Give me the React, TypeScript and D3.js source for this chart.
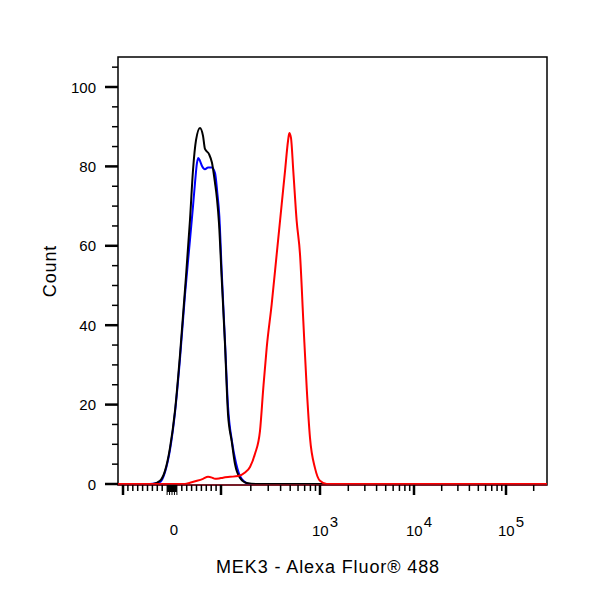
import React from "react";
import * as d3 from "d3";

// fluorescence value, count
const blackCurve: [number, number][] = [
  [-110, 0], [-45, 0], [-39, 0], [-24.5, 0.8], [-14.3, 3.3], [-4.1, 9.1], [6.1, 18.4],
  [16.3, 32.5], [26.5, 48.9], [36.7, 66.5], [42.9, 79.1], [49, 86.6], [57.1, 89.7],
  [63.3, 87.7], [67.3, 84.4], [75.5, 83.1], [81.6, 80.9], [87.8, 75.8], [91.8, 71.8],
  [95.9, 65.7], [101.6, 51.9], [109.7, 35.3], [117.7, 17.6], [128.2, 10.8],
  [138.5, 5.0], [155.6, 1.5], [181.8, 0.25], [229.5, 0], [280000, 0],
];

const blueCurve: [number, number][] = [
  [-110, 0], [-45, 0], [-24.5, 0.5], [-14.3, 3.0], [-4.1, 8.6], [6.1, 18.0], [16.3, 31.5],
  [26.5, 47.6], [36.7, 61.5], [42.9, 70], [46.9, 75.8], [51, 80.9], [53.7, 82.1],
  [57.1, 81.4], [61.2, 80.1], [67.3, 79.3], [73.5, 79.7], [81, 79.7], [87.8, 78.3],
  [92.5, 73.3], [96.6, 67.5], [101.6, 53.7], [109.7, 36], [117.7, 19.6], [129, 10.8],
  [141.7, 5.3], [161.7, 1.3], [196, 0], [247.6, 0], [280000, 0],
];

const redCurve: [number, number][] = [
  [-110, 0], [26.5, 0], [36.7, 0.3], [51, 0.8], [63.3, 1.3], [73.5, 1.8], [81.6, 1.6],
  [87.8, 1.3], [95.9, 1.4], [104.8, 1.6], [123.3, 1.8], [148.5, 2.0], [174.8, 2.9],
  [196.3, 4.3], [220.5, 7.6], [247.7, 13.4], [267.5, 24.2], [289.4, 34.3], [325.2, 45.3],
  [365.3, 57.9], [410.4, 70.5], [443.2, 78.8], [475.3, 86.4], [489.8, 88.4], [509.3, 87.2],
  [537.5, 78.8], [581.5, 66.2], [628, 57.9], [678.3, 41.1], [734.1, 24.2], [792.5, 11.6],
  [890.5, 4.0], [1000, 0.8], [1178, 0], [280000, 0],
];

const yMajorTicks = [0, 20, 40, 60, 80, 100];
const yMinorTicks = [5, 10, 15, 25, 30, 35, 45, 50, 55, 65, 70, 75, 85, 90, 95, 105];
const xMajorTicks = [-100, 100, 1000, 10000, 100000];
const xMinorTicks = [
  -90, -80, -70, -60, -50, -40, -30, -20, 20, 30, 40, 50, 60, 70, 80, 90,
  200, 300, 400, 500, 600, 700, 800, 900,
  2000, 3000, 4000, 5000, 6000, 7000, 8000, 9000,
  20000, 30000, 40000, 50000, 60000, 70000, 80000, 90000, 200000,
];
const xZeroTicks = [-10, -9, -8, -7, -6, -5, -4, -3, -2, -1, 0, 1, 2, 3, 4, 5, 6, 7, 8, 9, 10];
const xDecadeLabels = [3, 4, 5];

const LEFT = 118;
const RIGHT = 547;
const TOP = 57;
const BOTTOM = 485;
const FONT = "'Liberation Sans', Arial, sans-serif";

// biexponential-like axis: linear around zero, log above 10^2
const linX = d3.scaleLinear().domain([-100, 100]).range([123, 221]);
const logX = d3.scaleLinear().domain([2, 3, 4, 5, 6]).range([221, 320, 414, 506, 598]);
const xPos = (v: number) => (v <= 100 ? linX(v) : logX(Math.log10(v)));

const yScale = d3.scaleLinear().domain([0, 100]).range([484, 87]);

const lineGen = d3
  .line<[number, number]>()
  .x((d) => xPos(d[0]))
  .y((d) => yScale(d[1]))
  .curve(d3.curveMonotoneX);

export default function App() {
  return (
    <svg
      width={600}
      height={600}
      style={{ position: "absolute", left: 0, top: 0, background: "#fff" }}
    >
      <defs>
        <clipPath id="plotClip">
          <rect x={LEFT} y={TOP} width={RIGHT - LEFT} height={BOTTOM - TOP + 2} />
        </clipPath>
      </defs>

      {/* frame */}
      <rect
        x={LEFT}
        y={TOP}
        width={RIGHT - LEFT}
        height={BOTTOM - TOP}
        fill="none"
        stroke="#000"
        strokeWidth={1.5}
      />

      {/* curves */}
      <g clipPath="url(#plotClip)">
        <path d={lineGen(blueCurve) || ""} fill="none" stroke="#0000ff" strokeWidth={2} />
        <path d={lineGen(blackCurve) || ""} fill="none" stroke="#000" strokeWidth={2} />
        <path d={lineGen(redCurve) || ""} fill="none" stroke="#ff0000" strokeWidth={2} />
      </g>
      <path d={`M${LEFT},${BOTTOM}H${RIGHT}`} stroke="#8a1020" strokeWidth={1.5} />

      {/* y ticks */}
      {yMinorTicks.map((t) => (
        <line key={`ym${t}`} x1={112} x2={LEFT} y1={yScale(t)} y2={yScale(t)} stroke="#000" strokeWidth={1.5} />
      ))}
      {yMajorTicks.map((t) => (
        <g key={`yM${t}`}>
          <line x1={105} x2={LEFT} y1={yScale(t)} y2={yScale(t)} stroke="#000" strokeWidth={2.5} />
          <text
            x={96}
            y={yScale(t) + 5.5}
            textAnchor="end"
            fontFamily={FONT}
            fontSize={15}
            fill="#000"
          >
            {t}
          </text>
        </g>
      ))}

      {/* x ticks */}
      {xMinorTicks.map((t) => (
        <line key={`xm${t}`} x1={xPos(t)} x2={xPos(t)} y1={BOTTOM} y2={BOTTOM + 6} stroke="#000" strokeWidth={1.5} />
      ))}
      {xZeroTicks.map((t) => (
        <line key={`xz${t}`} x1={xPos(t)} x2={xPos(t)} y1={BOTTOM} y2={BOTTOM + (Math.abs(t) % 5 === 0 ? 10 : 7)} stroke="#000" strokeWidth={1} />
      ))}
      {xMajorTicks.map((t) => (
        <line key={`xM${t}`} x1={xPos(t)} x2={xPos(t)} y1={BOTTOM} y2={BOTTOM + 10} stroke="#000" strokeWidth={2.5} />
      ))}

      {/* x labels */}
      <text x={xPos(0) + 2} y={535} textAnchor="middle" fontFamily={FONT} fontSize={15} fill="#000">
        0
      </text>
      {xDecadeLabels.map((p) => (
        <text key={`xl${p}`} x={xPos(Math.pow(10, p)) - 8} y={536} fontFamily={FONT} fontSize={15} fill="#000">
          10
          <tspan dx={1} dy={-9}>
            {p}
          </tspan>
        </text>
      ))}

      {/* axis titles */}
      <text
        x={328}
        y={573}
        textAnchor="middle"
        fontFamily={FONT}
        fontSize={18}
        letterSpacing={0.9}
        fill="#000"
      >
        MEK3 - Alexa Fluor® 488
      </text>
      <text
        transform="translate(56,271) rotate(-90)"
        textAnchor="middle"
        fontFamily={FONT}
        fontSize={18}
        letterSpacing={0.9}
        fill="#000"
      >
        Count
      </text>
    </svg>
  );
}
